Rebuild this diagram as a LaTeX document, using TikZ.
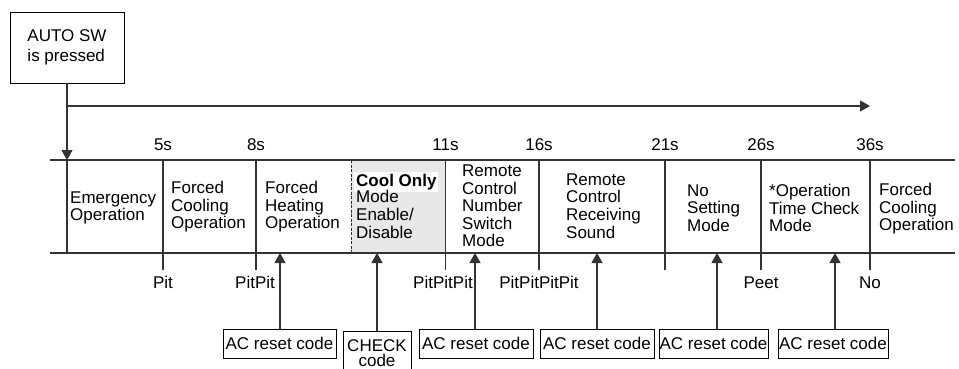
\documentclass[tikz,border=0pt]{standalone}
\usepackage{fontspec}
\setmainfont{Liberation Sans}
\usetikzlibrary{arrows.meta}
\tikzset{
  ln/.style={line width=1.1pt, draw=black!80},
  tipped/.style={ln, -{Triangle[length=10pt,width=11pt]}},
  lbl/.style={font=\fontsize{17}{17.6}\selectfont, inner sep=0pt},
  cell/.style={lbl, align=left, anchor=west},
  timelbl/.style={lbl, anchor=base},
  codebox/.style={lbl, draw=black, line width=0.9pt, minimum height=29pt, align=center},
}
\begin{document}
\begin{tikzpicture}[x=1pt,y=-1pt]
\useasboundingbox (0,0) rectangle (959,369);

% start box
\node[lbl, draw=black, line width=0.9pt, minimum width=114pt, minimum height=71pt,
      align=left, font=\fontsize{17}{19.4}\selectfont] (auto) at (67,47.5) {AUTO SW\\is pressed};

% gray cell
\fill[black!9] (351,160) rectangle (445.5,253);
\draw[line width=0.7pt, draw=black!80, dash pattern=on 3pt off 1.5pt] (351,160) -- (351,253);

% main coordinates
\coordinate (v0) at (67,160);
\coordinate (v1) at (67,253);
\coordinate (h0) at (67,106);
\coordinate (h1) at (870,106);
\coordinate (tl0) at (50,160);
\coordinate (tl1) at (955,160);
\coordinate (bl0) at (50,253);
\coordinate (bl1) at (955,253);

\draw[tipped] (auto.south) -- (v0);
\draw[ln] (v0) -- (v1);
\draw[tipped] (h0) -- (h1);
\draw[ln] (tl0) -- (tl1);
\draw[ln] (bl0) -- (bl1);

% dividers
\foreach \x/\n in {163/a,256/b,445.5/c,539/d,665/e,761/f,870/g}{
  \coordinate (d\n0) at (\x,160);
  \coordinate (d\n1) at (\x,270);
  \draw[ln] (d\n0) -- (d\n1);
}

% time labels
\node[timelbl] (t5)  at (163,150) {5s};
\node[timelbl] (t8)  at (256,150) {8s};
\node[timelbl] (t11) at (445.5,150) {11s};
\node[timelbl] (t16) at (539,150) {16s};
\node[timelbl] (t21) at (665,150) {21s};
\node[timelbl] (t26) at (761,150) {26s};
\node[timelbl] (t36) at (870,150) {36s};

% cell texts
\node[cell] (c1) at (70,208) {Emergency\\Operation};
\node[cell] (c2) at (171,207) {Forced\\Cooling\\Operation};
\node[cell] (c3) at (265,207) {Forced\\Heating\\Operation};
\node[lbl, fill=white, inner xsep=2pt, inner ysep=2pt, anchor=base west, font=\fontsize{17}{17.6}\selectfont\bfseries] (c4a) at (354,186) {Cool Only};
\node[cell] (c4b) at (356,214.5) {Mode\\Enable/\\Disable};
\node[cell] (c5) at (462,206) {Remote\\Control\\Number\\Switch\\Mode};
\node[cell] (c6) at (566,206) {Remote\\Control\\Receiving\\Sound};
\node[cell] (c7) at (687,208) {No\\Setting\\Mode};
\node[cell] (c8) at (769,208) {*Operation\\Time Check\\Mode};
\node[cell] (c9) at (879,209) {Forced\\Cooling\\Operation};

% sound labels
\node[timelbl] (s1) at (163,288) {Pit};
\node[timelbl] (s2) at (255,288) {PitPit};
\node[timelbl] (s3) at (443,288) {PitPitPit};
\node[timelbl] (s4) at (539,288) {PitPitPitPit};
\node[timelbl] (s5) at (761,288) {Peet};
\node[timelbl] (s6) at (870,288) {No};

% code boxes
\node[codebox, minimum width=113pt] (b1) at (279.5,343.5) {AC reset code};
\node[codebox, minimum width=68pt, minimum height=44pt, font=\fontsize{17}{15.5}\selectfont] (b2) at (377,353.3) {CHECK\\code};
\node[codebox, minimum width=114pt] (b3) at (476,343.5) {AC reset code};
\node[codebox, minimum width=114pt] (b4) at (597,343.5) {AC reset code};
\node[codebox, minimum width=109pt] (b5) at (713.5,343.5) {AC reset code};
\node[codebox, minimum width=110pt] (b6) at (833,343.5) {AC reset code};

% arrow targets on the bottom line
\coordinate (p1) at (280,253);
\coordinate (p2) at (377,253);
\coordinate (p3) at (475,253);
\coordinate (p4) at (597,253);
\coordinate (p5) at (717,253);
\coordinate (p6) at (835,253);

\draw[tipped] (b1.north -| p1) -- (p1);
\draw[tipped] (b2.north -| p2) -- (p2);
\draw[tipped] (b3.north -| p3) -- (p3);
\draw[tipped] (b4.north -| p4) -- (p4);
\draw[tipped] (b5.north -| p5) -- (p5);
\draw[tipped] (b6.north -| p6) -- (p6);
\end{tikzpicture}
\end{document}
